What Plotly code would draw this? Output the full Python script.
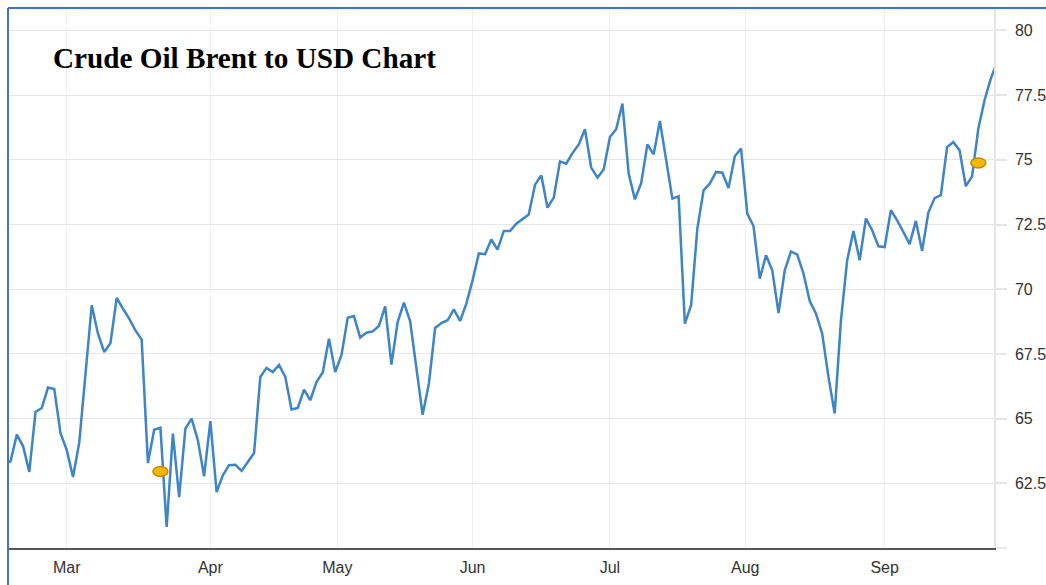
import plotly.graph_objects as go

# ---- data (Brent, daily trading days, 2021) ----
dates = [
    "2021-02-15", "2021-02-16", "2021-02-17", "2021-02-18", "2021-02-19",
    "2021-02-22", "2021-02-23", "2021-02-24", "2021-02-25", "2021-02-26",
    "2021-03-01", "2021-03-02", "2021-03-03", "2021-03-04", "2021-03-05",
    "2021-03-08", "2021-03-09", "2021-03-10", "2021-03-11", "2021-03-12",
    "2021-03-15", "2021-03-16", "2021-03-17", "2021-03-18", "2021-03-19",
    "2021-03-22", "2021-03-23", "2021-03-24", "2021-03-25", "2021-03-26",
    "2021-03-29", "2021-03-30", "2021-03-31", "2021-04-01",
    "2021-04-05", "2021-04-06", "2021-04-07", "2021-04-08", "2021-04-09",
    "2021-04-12", "2021-04-13", "2021-04-14", "2021-04-15", "2021-04-16",
    "2021-04-19", "2021-04-20", "2021-04-21", "2021-04-22", "2021-04-23",
    "2021-04-26", "2021-04-27", "2021-04-28", "2021-04-29", "2021-04-30",
    "2021-05-03", "2021-05-04", "2021-05-05", "2021-05-06", "2021-05-07",
    "2021-05-10", "2021-05-11", "2021-05-12", "2021-05-13", "2021-05-14",
    "2021-05-17", "2021-05-18", "2021-05-19", "2021-05-20", "2021-05-21",
    "2021-05-24", "2021-05-25", "2021-05-26", "2021-05-27", "2021-05-28",
    "2021-05-31",
    "2021-06-01", "2021-06-02", "2021-06-03", "2021-06-04",
    "2021-06-07", "2021-06-08", "2021-06-09", "2021-06-10", "2021-06-11",
    "2021-06-14", "2021-06-15", "2021-06-16", "2021-06-17", "2021-06-18",
    "2021-06-21", "2021-06-22", "2021-06-23", "2021-06-24", "2021-06-25",
    "2021-06-28", "2021-06-29", "2021-06-30",
    "2021-07-01", "2021-07-02",
    "2021-07-05", "2021-07-06", "2021-07-07", "2021-07-08", "2021-07-09",
    "2021-07-12", "2021-07-13", "2021-07-14", "2021-07-15", "2021-07-16",
    "2021-07-19", "2021-07-20", "2021-07-21", "2021-07-22", "2021-07-23",
    "2021-07-26", "2021-07-27", "2021-07-28", "2021-07-29", "2021-07-30",
    "2021-08-02", "2021-08-03", "2021-08-04", "2021-08-05", "2021-08-06",
    "2021-08-09", "2021-08-10", "2021-08-11", "2021-08-12", "2021-08-13",
    "2021-08-16", "2021-08-17", "2021-08-18", "2021-08-19", "2021-08-20",
    "2021-08-23", "2021-08-24", "2021-08-25", "2021-08-26", "2021-08-27",
    "2021-08-30", "2021-08-31",
    "2021-09-01", "2021-09-02", "2021-09-03",
    "2021-09-06", "2021-09-07", "2021-09-08", "2021-09-09", "2021-09-10",
    "2021-09-13", "2021-09-14", "2021-09-15", "2021-09-16", "2021-09-17",
    "2021-09-20", "2021-09-21", "2021-09-22", "2021-09-23", "2021-09-24",
    "2021-09-27",
]

prices = [
    63.25, 63.35, 64.38, 63.94, 62.94,
    65.26, 65.41, 66.20, 66.14, 64.44,
    63.78, 62.74, 64.07, 66.80, 69.38,
    68.28, 67.57, 67.92, 69.66, 69.25,
    68.86, 68.41, 68.05, 63.28, 64.57,
    64.65, 60.81, 64.42, 61.97, 64.61,
    65.00, 64.16, 62.77, 64.90,
    62.16, 62.81, 63.20, 63.22, 62.98,
    63.32, 63.67, 66.61, 66.96, 66.80,
    67.07, 66.61, 65.35, 65.41, 66.12,
    65.71, 66.41, 66.78, 68.09, 66.80,
    67.45, 68.90, 68.96, 68.13, 68.32,
    68.37, 68.58, 69.34, 67.09, 68.73,
    69.48, 68.76, 66.87, 65.15, 66.35,
    68.50, 68.69, 68.80, 69.22, 68.77,
    69.44,
    70.34, 71.38, 71.35, 71.92,
    71.53, 72.25, 72.25, 72.53, 72.70,
    72.89, 74.04, 74.40, 73.15, 73.54,
    74.94, 74.85, 75.26, 75.59, 76.18,
    74.70, 74.31, 74.63,
    75.88, 76.18,
    77.17, 74.47, 73.47, 74.10, 75.59,
    75.21, 76.50, 74.95, 73.50, 73.59,
    68.67, 69.38, 72.34, 73.82, 74.08,
    74.53, 74.50, 73.91, 75.14, 75.43,
    72.92, 72.43, 70.41, 71.31, 70.73,
    69.08, 70.73, 71.46, 71.34, 70.60,
    69.54, 69.06, 68.28, 66.61, 65.20,
    68.80, 71.12, 72.25, 71.12, 72.73,
    72.28, 71.66,
    71.63, 73.05, 72.66,
    72.21, 71.74, 72.64, 71.48, 72.96,
    73.52, 73.63, 75.49, 75.69, 75.37,
    73.98, 74.36, 76.20, 77.30, 78.14,
    80.00,
]

# highlighted points (orange dots)
marker_dates = ["2021-03-22", "2021-09-22"]
marker_values = [62.96, 74.88]

# axis ticks
month_tick_pos = ["2021-03-01", "2021-04-01", "2021-04-30 08:00", "2021-06-01",
                  "2021-07-01", "2021-07-30 16:00", "2021-09-01"]
month_labels = ["Mar", "Apr", "May", "Jun", "Jul", "Aug", "Sep"]
y_ticks = [60, 62.5, 65, 67.5, 70, 72.5, 75, 77.5, 80]
y_labels = ["", "62.5", "65", "67.5", "70", "72.5", "75", "77.5", "80"]

title_text = "Crude Oil Brent to USD Chart"

W, H = 1046, 585
ML, MR, MT, MB = 9, 52, 8, 37
PW = W - ML - MR
PH = H - MT - MB

fig = go.Figure()
fig.add_trace(go.Scatter(
    x=dates, y=prices, mode="lines",
    line=dict(color="#3d85c6", width=2.5),
    hoverinfo="x+y", showlegend=False,
))

shapes = []
for d, v in zip(marker_dates, marker_values):
    shapes.append(dict(
        type="circle", xref="x", yref="y",
        xsizemode="pixel", ysizemode="pixel",
        xanchor=d, yanchor=v,
        x0=-7.5, x1=7.5, y0=-5, y1=5,
        fillcolor="#f7b700", line=dict(color="#c68a00", width=1.5),
    ))

# blue frame (top and left edges)
fx = (8 - ML) / PW
fy_top = 1 - (8 - MT) / PH
shapes.append(dict(type="line", xref="paper", yref="paper",
                   x0=fx, x1=(W - ML) / PW, y0=fy_top, y1=fy_top,
                   line=dict(color="#4472c4", width=2)))
shapes.append(dict(type="line", xref="paper", yref="paper",
                   x0=fx, x1=fx, y0=fy_top, y1=-(MB) / PH,
                   line=dict(color="#4472c4", width=2)))

fig.update_layout(
    width=W, height=H, autosize=False,
    margin=dict(l=ML, r=MR, t=MT, b=MB, pad=0, autoexpand=False),
    paper_bgcolor="white", plot_bgcolor="white",
    shapes=shapes,
    annotations=[dict(
        text="<b>" + title_text + "</b>",
        xref="paper", yref="paper",
        x=(51 - ML) / PW, y=1 - (58 - MT) / PH,
        xanchor="left", yanchor="middle", showarrow=False,
        font=dict(family="Liberation Serif, Times New Roman, serif", size=29.2, color="#000000"),
    )],
    xaxis=dict(
        type="date", automargin=False,
        range=["2021-02-15 18:00", "2021-09-24 12:20"],
        rangebreaks=[dict(bounds=["sat", "mon"]), dict(values=["2021-04-02"])],
        tickmode="array", tickvals=month_tick_pos, ticktext=month_labels,
        showgrid=True, gridcolor="#edf2f7", gridwidth=1,
        showline=True, linecolor="#555555", linewidth=2,
        ticks="", ticklabelstandoff=4,
        tickfont=dict(family="Liberation Sans, Arial, sans-serif", size=16, color="#333333"),
        zeroline=False, fixedrange=True,
    ),
    yaxis=dict(
        side="right", automargin=False,
        range=[60, 60 + PH / 25.88],
        tickmode="array", tickvals=y_ticks, ticktext=y_labels,
        showgrid=True, gridcolor="#e6e6e6", gridwidth=1,
        showline=True, linecolor="#e6e6e6", linewidth=1.5,
        ticks="outside", ticklen=11, tickcolor="#e6e6e6", tickwidth=1.5,
        ticklabelstandoff=5,
        tickfont=dict(family="Liberation Sans, Arial, sans-serif", size=16, color="#333333"),
        zeroline=False, fixedrange=True,
    ),
)

fig.write_html("out.html")
